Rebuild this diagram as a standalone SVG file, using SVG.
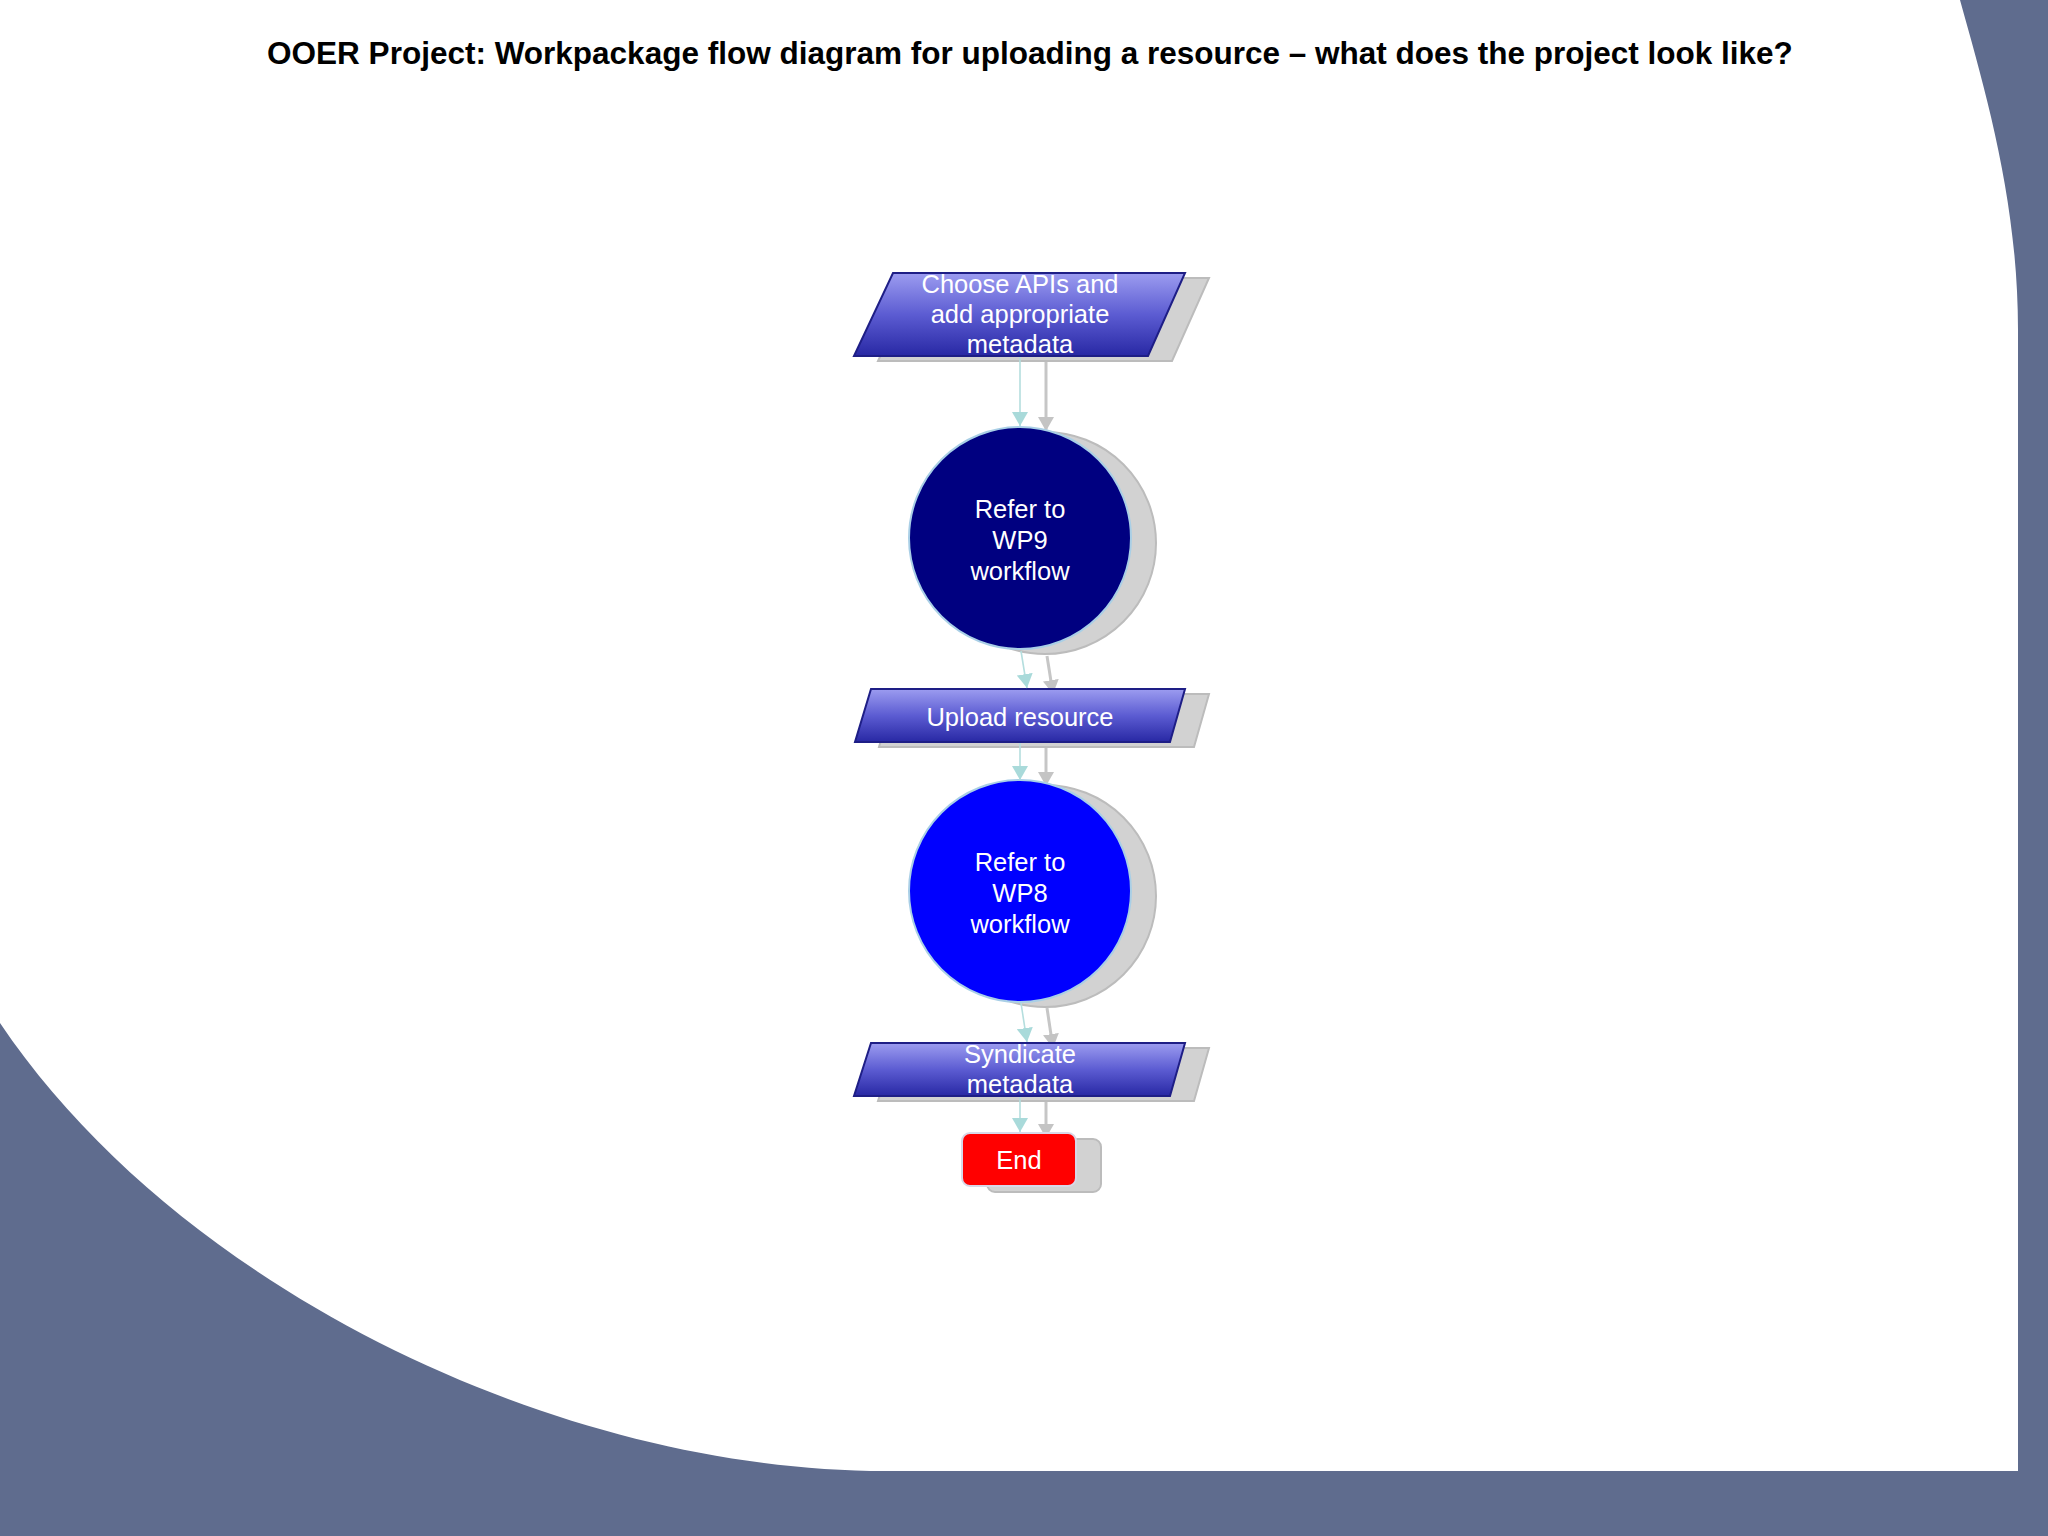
<svg xmlns="http://www.w3.org/2000/svg" width="2048" height="1536" viewBox="0 0 2048 1536">
<defs>
<linearGradient id="pg" x1="0" y1="0" x2="0" y2="1">
<stop offset="0" stop-color="#9c9cf0"/>
<stop offset="0.5" stop-color="#5c5cd2"/>
<stop offset="1" stop-color="#2828a4"/>
</linearGradient>
<marker id="ah" markerWidth="14" markerHeight="16" refX="14" refY="8" orient="auto" markerUnits="userSpaceOnUse" viewBox="0 0 14 16">
<path d="M0 0 L14 8 L0 16 Z" fill="#a9dada"/>
</marker>
<marker id="ahs" markerWidth="14" markerHeight="16" refX="14" refY="8" orient="auto" markerUnits="userSpaceOnUse" viewBox="0 0 14 16">
<path d="M0 0 L14 8 L0 16 Z" fill="#c4c4c4"/>
</marker>
<style>
.shadow{fill:#d2d2d2;stroke:#bcbcbc;stroke-width:2}
.para{fill:url(#pg);stroke:#1e1e86;stroke-width:2}
.lbl{font-family:"Liberation Sans",Arial,sans-serif;font-size:25.5px;fill:#ffffff;text-anchor:middle}
.title{font-family:"Liberation Sans",Arial,sans-serif;font-size:31.5px;font-weight:bold;fill:#000000;text-anchor:middle}
.conn{fill:none;stroke:#b4dede;stroke-width:1.6}
.conns{fill:none;stroke:#c6c6c6;stroke-width:3}
</style>
</defs>
<g id="background">
<rect x="0" y="0" width="2048" height="1536" fill="#5f6c8e"/>
<path d="M0 0 L1960 0 C1985 90 2018 200 2018 330 L2018 1471 L886 1471 C560 1471 180 1290 0 1023 Z" fill="#ffffff"/>
</g>
<text class="title" x="1030" y="64">OOER Project: Workpackage flow diagram for uploading a resource – what does the project look like?</text>
<g id="connector-shadows">
<path class="conns" d="M1046 362 L1046 431" marker-end="url(#ahs)"/>
<path class="conns" d="M1047 656 L1053 694" marker-end="url(#ahs)"/>
<path class="conns" d="M1046 748 L1046 786" marker-end="url(#ahs)"/>
<path class="conns" d="M1047 1008 L1053 1048" marker-end="url(#ahs)"/>
<path class="conns" d="M1046 1102 L1046 1138" marker-end="url(#ahs)"/>
</g>
<g id="node-choose">
<polygon class="shadow" points="917,278 1209,278 1172,361 878,361"/>
<polygon class="para" points="893,273 1185,273 1148,356 854,356"/>
<text class="lbl" x="1020" y="293">Choose APIs and</text>
<text class="lbl" x="1020" y="323">add appropriate</text>
<text class="lbl" x="1020" y="353">metadata</text>
</g>
<g id="node-wp9">
<circle class="shadow" cx="1045" cy="543" r="111"/>
<circle cx="1020" cy="538" r="111" fill="#000080" stroke="#a9cfe6" stroke-width="2"/>
<text class="lbl" x="1020" y="518">Refer to</text>
<text class="lbl" x="1020" y="549">WP9</text>
<text class="lbl" x="1020" y="580">workflow</text>
</g>
<g id="node-upload">
<polygon class="shadow" points="895,694 1209,694 1194,747 879,747"/>
<polygon class="para" points="871,689 1185,689 1170,742 855,742"/>
<text class="lbl" x="1020" y="726">Upload resource</text>
</g>
<g id="node-wp8">
<circle class="shadow" cx="1045" cy="896" r="111"/>
<circle cx="1020" cy="891" r="111" fill="#0000ff" stroke="#a9cfe6" stroke-width="2"/>
<text class="lbl" x="1020" y="871">Refer to</text>
<text class="lbl" x="1020" y="902">WP8</text>
<text class="lbl" x="1020" y="933">workflow</text>
</g>
<g id="node-syndicate">
<polygon class="shadow" points="895,1048 1209,1048 1194,1101 878,1101"/>
<polygon class="para" points="871,1043 1185,1043 1170,1096 854,1096"/>
<text class="lbl" x="1020" y="1063">Syndicate</text>
<text class="lbl" x="1020" y="1093">metadata</text>
</g>
<g id="node-end">
<rect class="shadow" x="987" y="1139" width="114" height="53" rx="8"/>
<rect x="962" y="1133" width="114" height="53" rx="8" fill="#ff0000" stroke="#d8d8e8" stroke-width="2"/>
<text class="lbl" x="1019" y="1169">End</text>
</g>
<g id="connectors">
<path class="conn" d="M1020 357 L1020 426" marker-end="url(#ah)"/>
<path class="conn" d="M1021 651 L1027 688" marker-end="url(#ah)"/>
<path class="conn" d="M1020 743 L1020 780" marker-end="url(#ah)"/>
<path class="conn" d="M1021 1003 L1027 1042" marker-end="url(#ah)"/>
<path class="conn" d="M1020 1097 L1020 1132" marker-end="url(#ah)"/>
</g>
</svg>
